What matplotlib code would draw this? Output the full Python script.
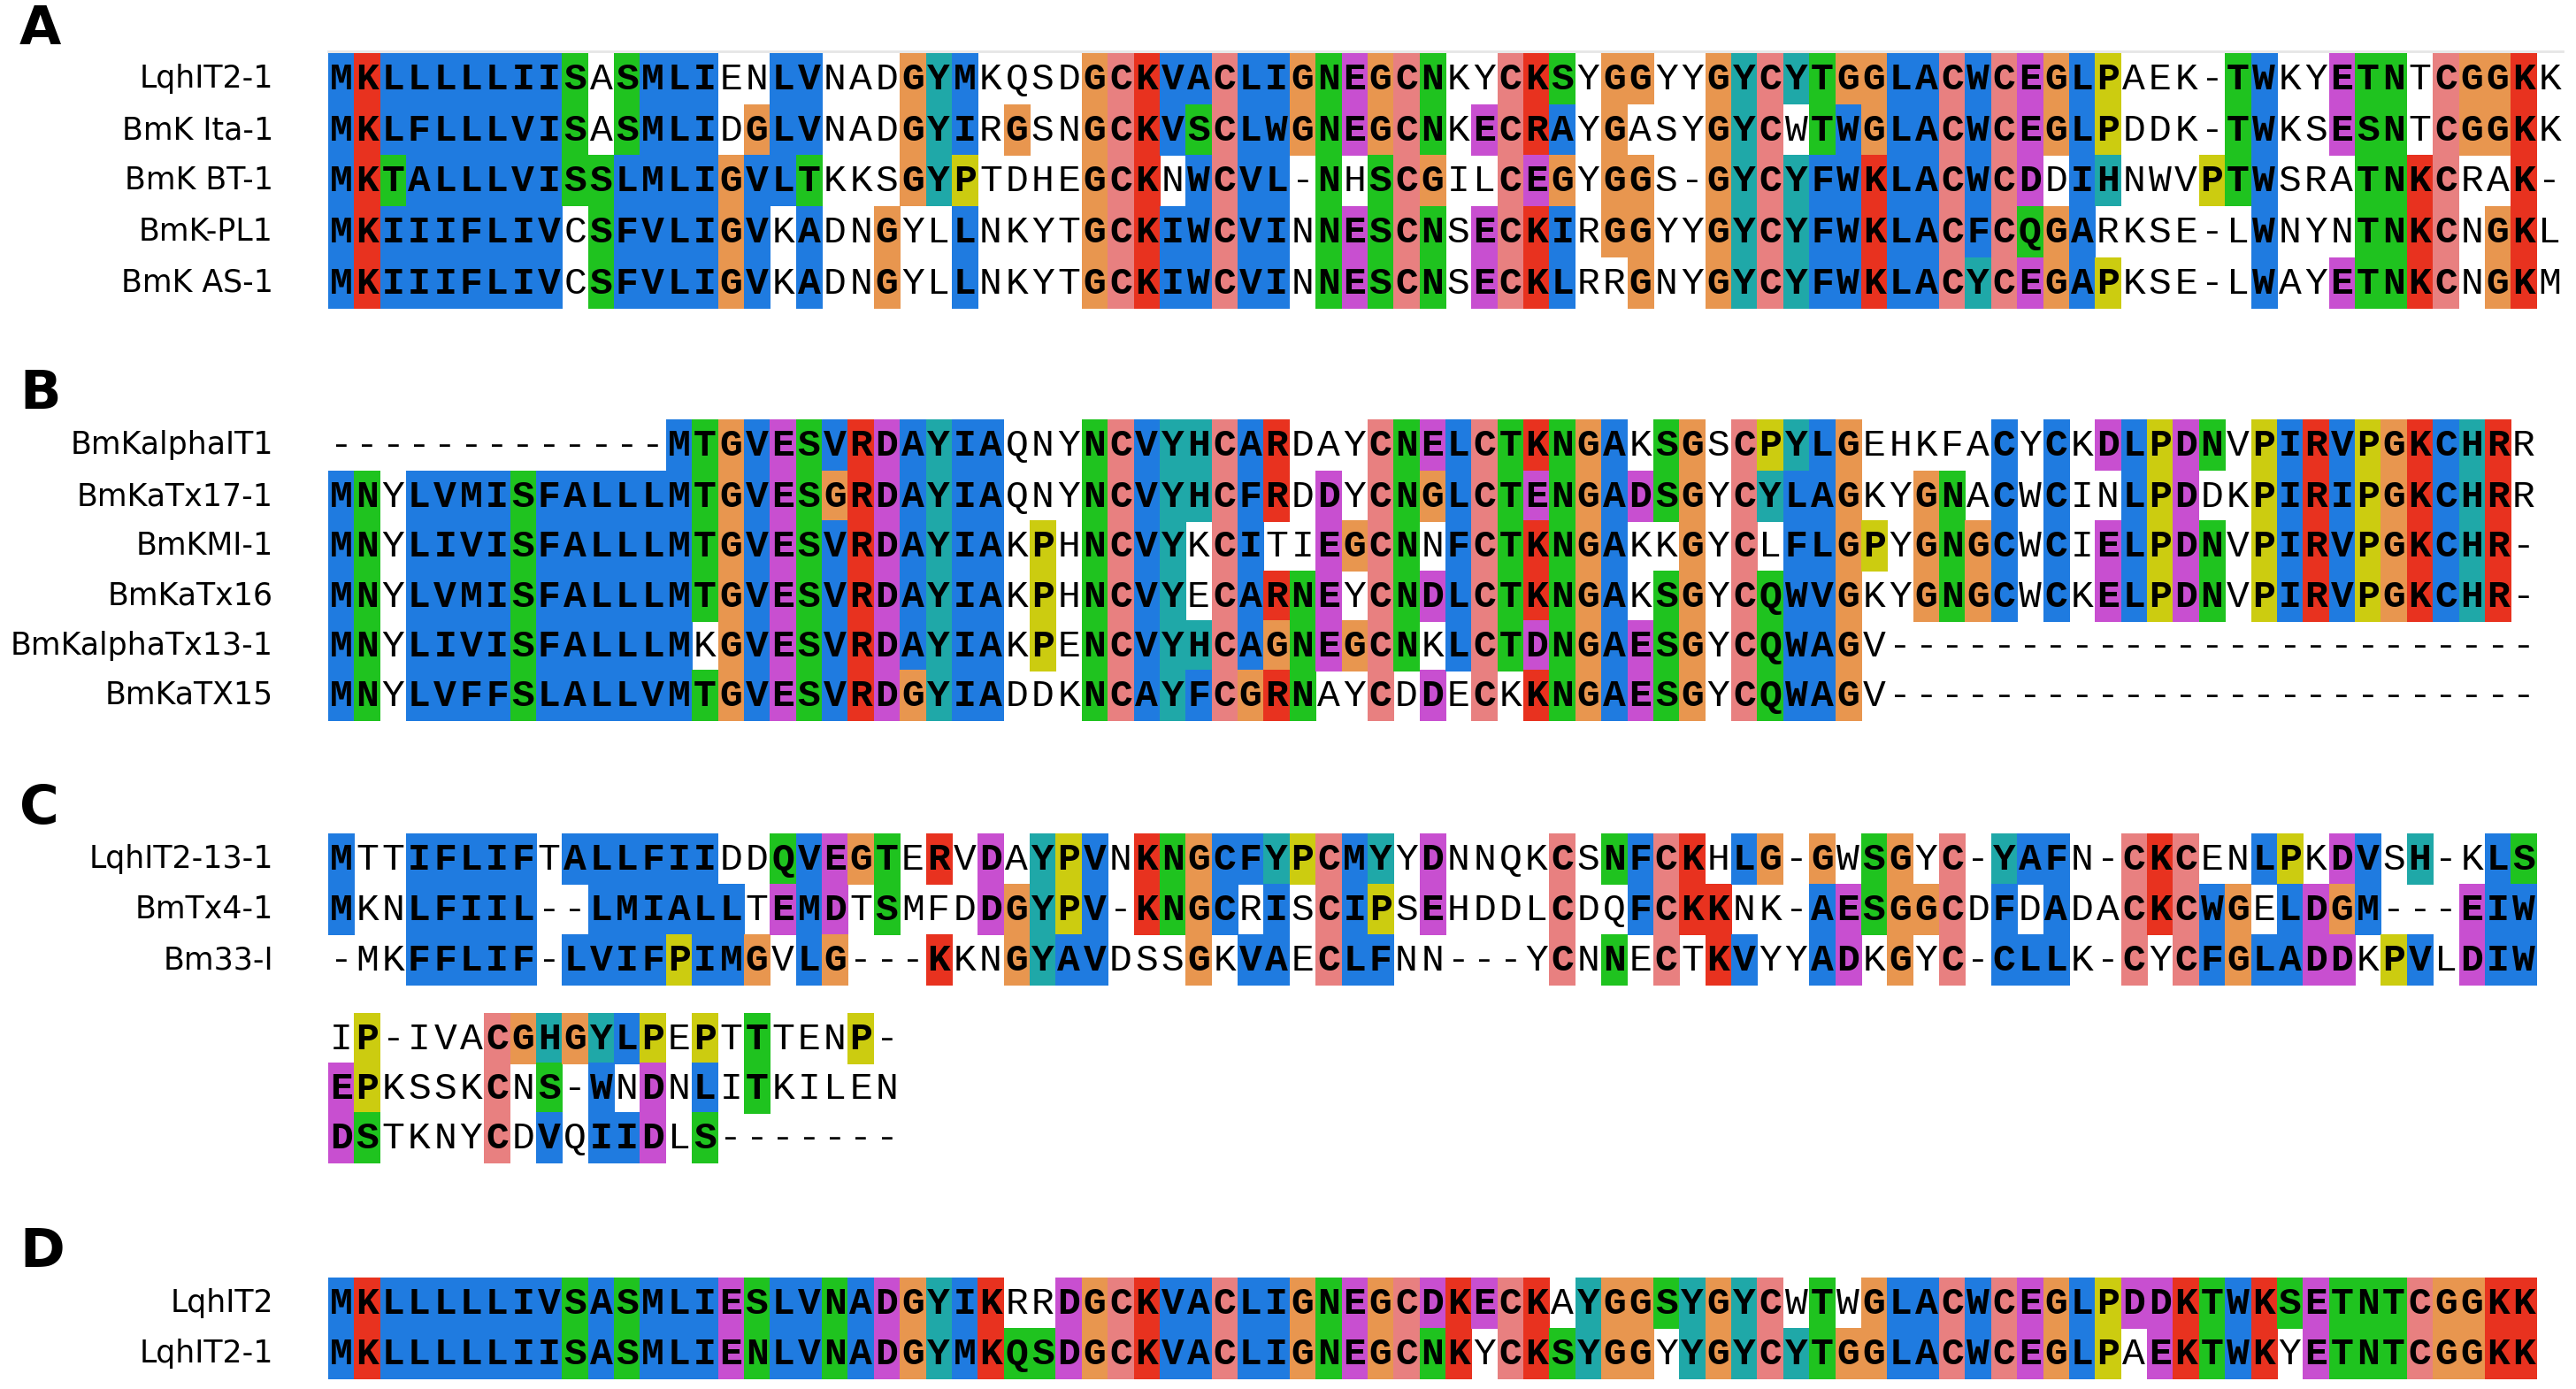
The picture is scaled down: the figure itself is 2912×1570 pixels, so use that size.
import matplotlib
matplotlib.use("Agg")
import matplotlib.pyplot as plt
from matplotlib.patches import Rectangle
from matplotlib import font_manager

names_A = ["LqhIT2-1", "BmK Ita-1", "BmK BT-1", "BmK-PL1", "BmK AS-1"]
seqs_A = [
    "MKLLLLLIISASMLIENLVNADGYMKQSDGCKVACLIGNEGCNKYCKSYGGYYGYCYTGGLACWCEGLPAEK-TWKYETNTCGGKK",
    "MKLFLLLVISASMLIDGLVNADGYIRGSNGCKVSCLWGNEGCNKECRAYGASYGYCWTWGLACWCEGLPDDK-TWKSESNTCGGKK",
    "MKTALLLVISSLMLIGVLTKKSGYPTDHEGCKNWCVL-NHSCGILCEGYGGS-GYCYFWKLACWCDDIHNWVPTWSRATNKCRAK-",
    "MKIIIFLIVCSFVLIGVKADNGYLLNKYTGCKIWCVINNESCNSECKIRGGYYGYCYFWKLACFCQGARKSE-LWNYNTNKCNGKL",
    "MKIIIFLIVCSFVLIGVKADNGYLLNKYTGCKIWCVINNESCNSECKLRRGNYGYCYFWKLACYCEGAPKSE-LWAYETNKCNGKM",
]
names_B = ["BmKalphaIT1", "BmKaTx17-1", "BmKMI-1", "BmKaTx16", "BmKalphaTx13-1", "BmKaTX15"]
seqs_B = [
    "-------------MTGVESVRDAYIAQNYNCVYHCARDAYCNELCTKNGAKSGSCPYLGEHKFACYCKDLPDNVPIRVPGKCHRR",
    "MNYLVMISFALLLMTGVESGRDAYIAQNYNCVYHCFRDDYCNGLCTENGADSGYCYLAGKYGNACWCINLPDDKPIRIPGKCHRR",
    "MNYLIVISFALLLMTGVESVRDAYIAKPHNCVYKCITIEGCNNFCTKNGAKKGYCLFLGPYGNGCWCIELPDNVPIRVPGKCHR-",
    "MNYLVMISFALLLMTGVESVRDAYIAKPHNCVYECARNEYCNDLCTKNGAKSGYCQWVGKYGNGCWCKELPDNVPIRVPGKCHR-",
    "MNYLIVISFALLLMKGVESVRDAYIAKPENCVYHCAGNEGCNKLCTDNGAESGYCQWAGV-------------------------",
    "MNYLVFFSLALLVMTGVESVRDGYIADDKNCAYFCGRNAYCDDECKKNGAESGYCQWAGV-------------------------",
]
names_C = ["LqhIT2-13-1", "BmTx4-1", "Bm33-I"]
seqs_C1 = [
    "MTTIFLIFTALLFIIDDQVEGTERVDAYPVNKNGCFYPCMYYDNNQKCSNFCKHLG-GWSGYC-YAFN-CKCENLPKDVSH-KLS",
    "MKNLFIIL--LMIALLTEMDTSMFDDGYPV-KNGCRISCIPSEHDDLCDQFCKKNK-AESGGCDFDADACKCWGELDGM---EIW",
    "-MKFFLIF-LVIFPIMGVLG---KKNGYAVDSSGKVAECLFNN---YCNNECTKVYYADKGYC-CLLK-CYCFGLADDKPVLDIW",
]
seqs_C2 = [
    "IP-IVACGHGYLPEPTTTENP-",
    "EPKSSKCNS-WNDNLITKILEN",
    "DSTKNYCDVQIIDLS-------",
]
names_D = ["LqhIT2", "LqhIT2-1"]
seqs_D = [
    "MKLLLLLIVSASMLIESLVNADGYIKRRDGCKVACLIGNEGCDKECKAYGGSYGYCWTWGLACWCEGLPDDKTWKSETNTCGGKK",
    "MKLLLLLIISASMLIENLVNADGYMKQSDGCKVACLIGNEGCNKYCKSYGGYYGYCYTGGLACWCEGLPAEKTWKYETNTCGGKK",
]

BLUE = "#1f7be0"; RED = "#e8321f"; MAG = "#c84fd0"; GREEN = "#1fc31f"
PINK = "#e88080"; ORANGE = "#e8964f"; YELLOW = "#cccc10"; CYAN = "#1fa8a8"

avail = {f.name for f in font_manager.fontManager.ttflist}
MONO = [f for f in ["Liberation Mono", "Courier New", "Nimbus Mono PS", "FreeMono", "DejaVu Sans Mono"] if f in avail]

def col_colors(col):
    n = len(col)
    f = lambda s: sum(c in s for c in col) / n
    hyd = f("WLVIMAFCHP")
    out = []
    for c in col:
        k = None
        if c in "AILMFWV":
            if hyd >= 0.6: k = BLUE
        elif c == "C":
            if f("C") > 0.85: k = PINK
            elif hyd >= 0.6: k = BLUE
        elif c in "KR":
            if f("KR") >= 0.6 or f("Q") > 0.85: k = RED
        elif c == "E":
            if f("KR") >= 0.6 or f("QE") >= 0.5 or f("ED") >= 0.5: k = MAG
        elif c == "D":
            if f("KR") >= 0.6 or f("ED") >= 0.5 or f("N") > 0.85: k = MAG
        elif c == "N":
            if f("N") >= 0.5 or f("D") > 0.85: k = GREEN
        elif c == "Q":
            if f("KR") >= 0.6 or f("QE") >= 0.5: k = GREEN
        elif c in "ST":
            if hyd >= 0.6 or f("ST") >= 0.5: k = GREEN
        elif c == "G":
            k = ORANGE
        elif c == "P":
            k = YELLOW
        elif c in "HY":
            if hyd >= 0.6 or f("WYACPQFHILMV") > 0.85: k = CYAN
        out.append(k)
    return out

W, H = 2912, 1570
fig = plt.figure(figsize=(W / 100, H / 100), dpi=100)
ax = fig.add_axes([0, 0, 1, 1])
ax.set_xlim(0, W); ax.set_ylim(H, 0); ax.axis("off")

X0 = 371
CW = (2897 - 371) / 86
RH = 57.5

def block(names, seqs, ys, show_names=True):
    L = len(seqs[0])
    for j in range(L):
        col = [s[j] for s in seqs]
        cols = col_colors(col)
        for i, (c, k) in enumerate(zip(col, cols)):
            x = X0 + j * CW
            y = ys[i]
            if k and c != "-":
                ax.add_patch(Rectangle((x, y - RH / 2), CW + 0.6, RH + 0.6, color=k, lw=0))
            ax.text(x + CW / 2, y + 1, c, ha="center", va="center",
                    family=MONO, fontsize=31,
                    fontweight="bold" if (k and c != "-") else "normal", color="black")
    if show_names:
        for n, y in zip(names, ys):
            ax.text(309, y, n, ha="right", va="center", family="DejaVu Sans", fontsize=25)

block(names_A, seqs_A, [89, 147, 204, 262, 320])
block(names_B, seqs_B, [503, 561, 617, 674, 730, 786])
block(names_C, seqs_C1, [971, 1028, 1085])
block(names_C, seqs_C2, [1174, 1230, 1286], show_names=False)
block(names_D, seqs_D, [1473, 1530])
ax.plot([371, 2897], [58, 58], color="#e6e6e6", lw=2)

for lab, y in zip("ABCD", [33, 446, 914, 1415]):
    ax.text(22, y, lab, ha="left", va="center", family="DejaVu Sans", fontsize=44, fontweight="bold")

fig.savefig("out.png", dpi=100)
